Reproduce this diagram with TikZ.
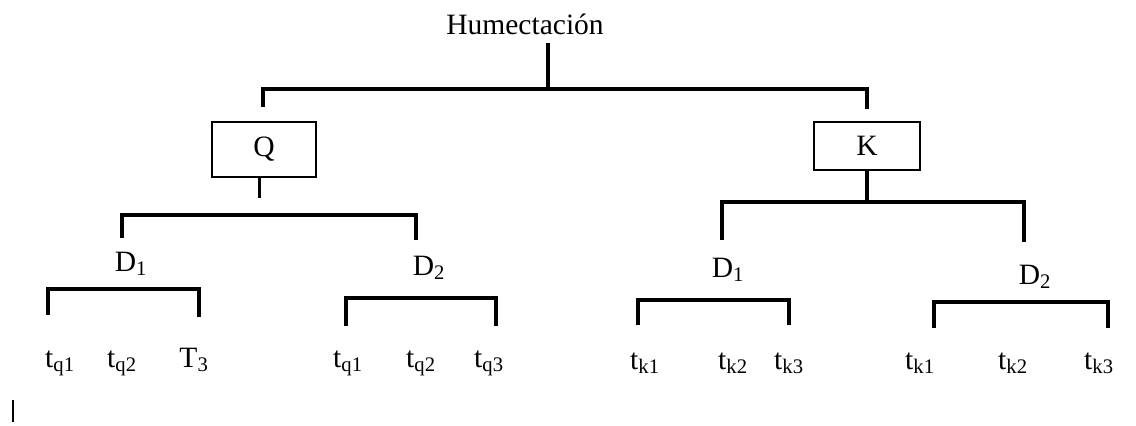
\documentclass[tikz,border=0pt]{standalone}
\usepackage{fontspec}
\setmainfont{Liberation Serif}
\usetikzlibrary{positioning, calc}

\begin{document}
\begin{tikzpicture}[
    x=0.025cm, y=-0.025cm,
    every node/.style={font=\fontsize{21}{25}\selectfont, inner sep=0pt},
    branch/.style={draw, line width=2.2pt},
    varbox/.style={draw, line width=1.4pt, fill=white},
    label/.style={anchor=base}
]
    \useasboundingbox (0,0) rectangle (1136,426);

    % Root
    \node[label] (hum) at (525,35) {Humectación};

    % Variables in boxes
    \node[varbox, minimum width=2.6cm, minimum height=1.37cm] (qbox) at (264,149.5) {Q};
    \node[varbox, minimum width=2.65cm, minimum height=1.2cm] (kbox) at (867,146) {K};

    % Second level labels
    \node[label] (qd1) at (131,271) {D\textsubscript{1}};
    \node[label] (qd2) at (429,275) {D\textsubscript{2}};
    \node[label] (kd1) at (728,277) {D\textsubscript{1}};
    \node[label] (kd2) at (1035,284) {D\textsubscript{2}};

    % Leaves under Q
    \node[label] (qd1t1) at (60,367) {t\textsubscript{q1}};
    \node[label] (qd1t2) at (122,367) {t\textsubscript{q2}};
    \node[label] (qd1t3) at (194,367) {T\textsubscript{3}};
    \node[label] (qd2t1) at (348,367) {t\textsubscript{q1}};
    \node[label] (qd2t2) at (421,367) {t\textsubscript{q2}};
    \node[label] (qd2t3) at (489,367) {t\textsubscript{q3}};

    % Leaves under K
    \node[label] (kd1t1) at (645,369) {t\textsubscript{k1}};
    \node[label] (kd1t2) at (733,369) {t\textsubscript{k2}};
    \node[label] (kd1t3) at (789,369) {t\textsubscript{k3}};
    \node[label] (kd2t1) at (920,369) {t\textsubscript{k1}};
    \node[label] (kd2t2) at (1013,369) {t\textsubscript{k2}};
    \node[label] (kd2t3) at (1099,369) {t\textsubscript{k3}};

    % Ends of the brackets
    \coordinate (hum_stem) at (548,43);
    \coordinate (hum_join) at (548,89);
    \coordinate (q_in) at (263,107);
    \coordinate (k_in) at (867,109);
    \coordinate (k_join) at (867,202);
    \coordinate (qd1_in) at (122,238);
    \coordinate (qd2_in) at (416,240);
    \coordinate (kd1_in) at (722,240);
    \coordinate (kd2_in) at (1024,242);
    \coordinate (qd1_l) at (48,315);
    \coordinate (qd1_r) at (199,317);
    \coordinate (qd2_l) at (346,326);
    \coordinate (qd2_r) at (496,326);
    \coordinate (kd1_l) at (638,325);
    \coordinate (kd1_r) at (789,325);
    \coordinate (kd2_l) at (934,328);
    \coordinate (kd2_r) at (1108,328);

    % Humectacion -> Q, K
    \draw[branch] (hum_stem) -- (hum_join);
    \draw[branch] (q_in) -- ++(0,-18) -| (k_in);

    % Q -> D1, D2
    \draw[branch] ([xshift=-3]qbox.south) -- ++(0,20);
    \draw[branch] (qd1_in) -- ++(0,-23) -| (qd2_in);

    % K -> D1, D2
    \draw[branch] (kbox.south) -- (k_join);
    \draw[branch] (kd1_in) -- ++(0,-38) -| (kd2_in);

    % D -> times
    \draw[branch] (qd1_l) -- ++(0,-26) -| (qd1_r);
    \draw[branch] (qd2_l) -- ++(0,-28) -| (qd2_r);
    \draw[branch] (kd1_l) -- ++(0,-25) -| (kd1_r);
    \draw[branch] (kd2_l) -- ++(0,-26) -| (kd2_r);

    % stray mark
    \draw[line width=2pt] (13,400) -- (13,422);

\end{tikzpicture}
\end{document}
